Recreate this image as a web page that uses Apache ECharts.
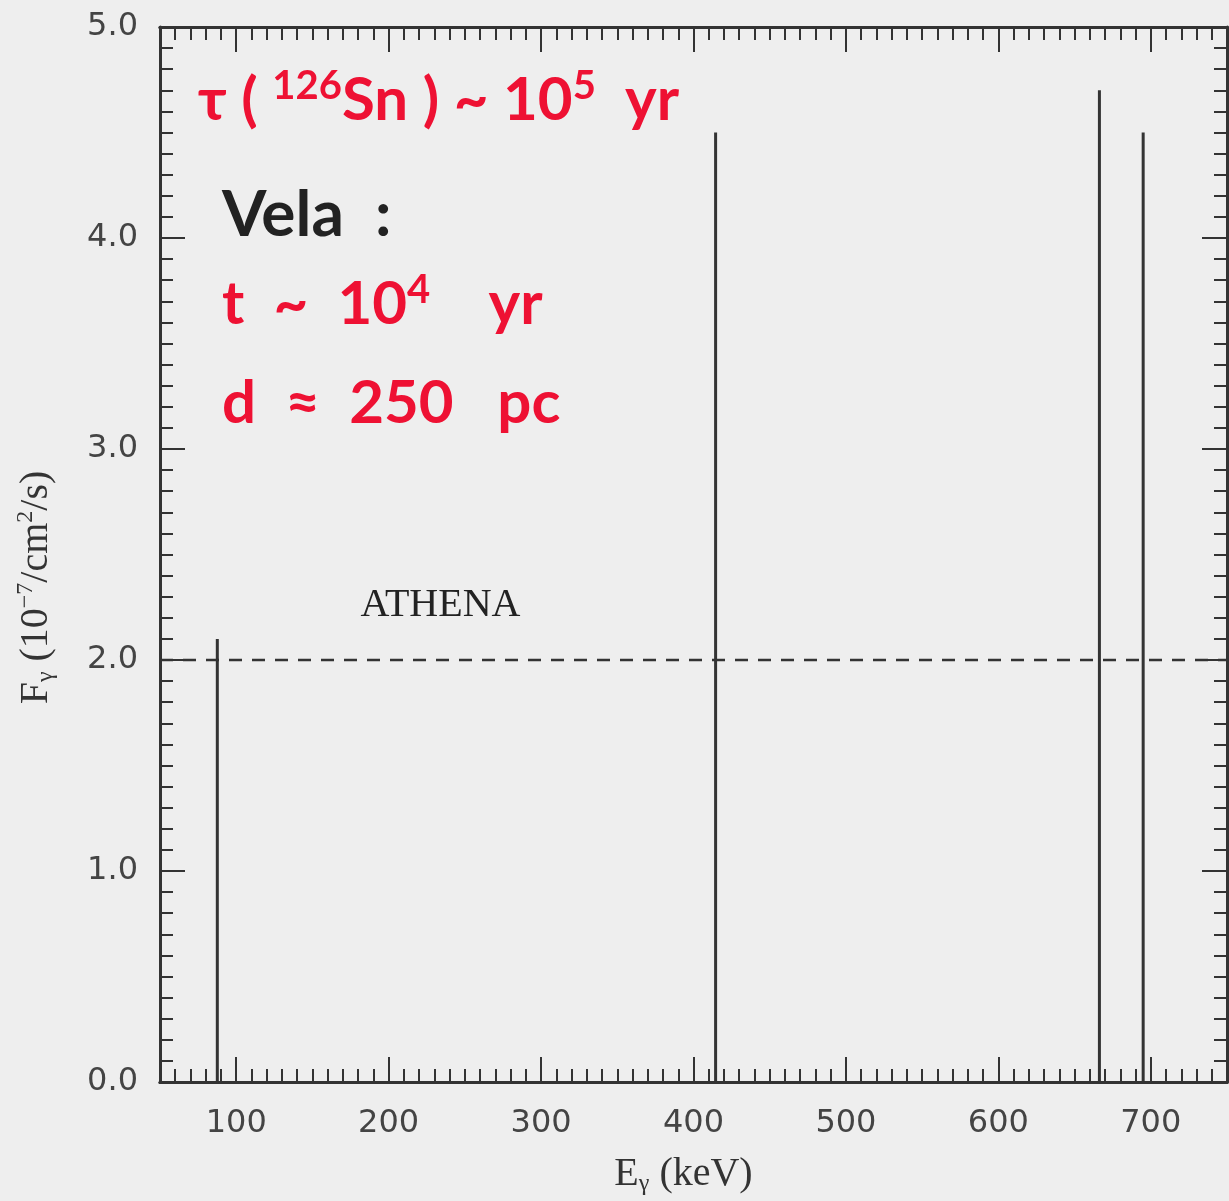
<!DOCTYPE html>
<html><head><meta charset="utf-8">
<script src="https://cdn.jsdelivr.net/npm/echarts@6/dist/echarts.min.js"></script>
<style>html,body{margin:0;padding:0;background:#eeeeee}#c{width:1229px;height:1201px}</style>
</head><body><div id="c"></div>
<script>
// Sn-126 gamma lines (keV) and fluxes (1e-7 /cm^2/s)
const lineEnergies = [87.6, 414.5, 666.3, 695.0];
const lineFluxes = [2.1, 4.5, 4.7, 4.5];
const athenaLimit = 2.0;
const xRange = [50, 750];
const yRange = [0, 5];
const xMajorTicks = [100, 200, 300, 400, 500, 600, 700];

const ink = '#333333';
const red = '#ee1133';
const chart = echarts.init(document.getElementById('c'), null, {renderer: 'canvas'});

const grid = {left: 160, right: 2, top: 27, bottom: 113, containLabel: false};

function xAx(pos, minor, labels) {
  const a = {
    type: 'value', position: pos, gridIndex: 0, min: xRange[0], max: xRange[1],
    axisLine: {show: true, onZero: false, lineStyle: {color: ink, width: 3}},
    splitLine: {show: false},
    axisLabel: {show: false},
    axisTick: {show: true, inside: true, lineStyle: {color: ink, width: 2}}
  };
  if (minor) {
    a.interval = 10;
    a.axisTick.length = 13;
  } else {
    a.axisTick.length = 25;
    a.axisTick.customValues = xMajorTicks;
    if (labels) {
      a.axisLabel = {show: true, customValues: xMajorTicks, color: '#444', fontSize: 32,
        fontFamily: 'DejaVu Sans', margin: 26};
      a.name = 'E{sub|γ} (keV)';
      a.nameLocation = 'middle';
      a.nameGap = 70;
      a.nameTextStyle = {fontFamily: 'Liberation Serif', fontSize: 40, color: '#333', padding: [0, 20, 0, 0],
        rich: {sub: {fontFamily: 'Liberation Serif', fontSize: 24, verticalAlign: 'bottom', padding: [20, 0, 0, 0]}}};
    }
  }
  return a;
}
function yAx(pos, labels) {
  const a = {
    type: 'value', position: pos, gridIndex: 0, min: yRange[0], max: yRange[1], interval: 1,
    axisLine: {show: true, onZero: false, lineStyle: {color: ink, width: 3}},
    splitLine: {show: false},
    axisTick: {show: true, inside: true, length: 25, lineStyle: {color: ink, width: 2}},
    minorTick: {show: true, splitNumber: 10, length: 13, lineStyle: {color: ink, width: 2}},
    axisLabel: {show: false}
  };
  if (labels) {
    a.axisLabel = {show: true, color: '#444', fontSize: 32, fontFamily: 'DejaVu Sans', margin: 22,
      formatter: v => v.toFixed(1)};
    a.name = 'F{sub|γ} (10{sup|−7}/cm{sup|2}/s)';
    a.nameLocation = 'middle';
    a.nameGap = 102;
    a.nameRotate = 90;
    a.nameTextStyle = {fontFamily: 'Liberation Serif', fontSize: 40, color: '#333', padding: [0, 66, 0, 0],
      rich: {
        sub: {fontFamily: 'Liberation Serif', fontSize: 24, verticalAlign: 'bottom', padding: [20, 0, 0, 0]},
        sup: {fontFamily: 'Liberation Serif', fontSize: 24, verticalAlign: 'top', padding: [0, 0, 20, 0]}
      }};
  }
  return a;
}

const hand = {fontFamily: 'Lato', fontWeight: 'bold', fontSize: 60};
const sup = {fill: red, fontFamily: 'Lato', fontWeight: 'bold', fontSize: 40, verticalAlign: 'top', padding: [0, 0, 30, 0]};

const option = {
  backgroundColor: '#eeeeee',
  animation: false,
  grid: grid,
  xAxis: [xAx('bottom', true), xAx('bottom', false, true), xAx('top', true), xAx('top', false)],
  yAxis: [yAx('left', true), yAx('right', false)],
  series: [
    {
      type: 'bar', xAxisIndex: 0, yAxisIndex: 0, barWidth: 3,
      itemStyle: {color: ink},
      data: lineEnergies.map((e, i) => [e, lineFluxes[i]])
    },
    {
      type: 'line', xAxisIndex: 0, yAxisIndex: 0, symbol: 'none',
      lineStyle: {color: ink, width: 2.5, type: [13, 10]},
      data: [[xRange[0], athenaLimit], [xRange[1], athenaLimit]]
    },
    {
      type: 'scatter', xAxisIndex: 0, yAxisIndex: 0, symbolSize: 1,
      itemStyle: {opacity: 0},
      data: [[234, 2.26]],
      label: {show: true, formatter: 'ATHENA', position: 'inside', fontFamily: 'Liberation Serif',
        fontSize: 40, color: '#222', opacity: 1}
    }
  ],
  graphic: [
    {type: 'text', left: 198, top: 66, style: {
      text: 'τ ( {s|126}Sn ) ~ 10{s|5}  yr', fill: red, ...hand, rich: {s: sup}
    }},
    {type: 'text', left: 222, top: 183, style: {text: 'Vela  :', fill: '#222', ...hand, fontSize: 64}},
    {type: 'text', left: 222, top: 270, style: {
      text: 't  ~  10{s|4}    yr', fill: red, ...hand, rich: {s: sup}
    }},
    {type: 'text', left: 222, top: 374, style: {text: 'd  ≈  250   pc', fill: red, ...hand}}
  ]
};
chart.setOption(option);
</script></body></html>
